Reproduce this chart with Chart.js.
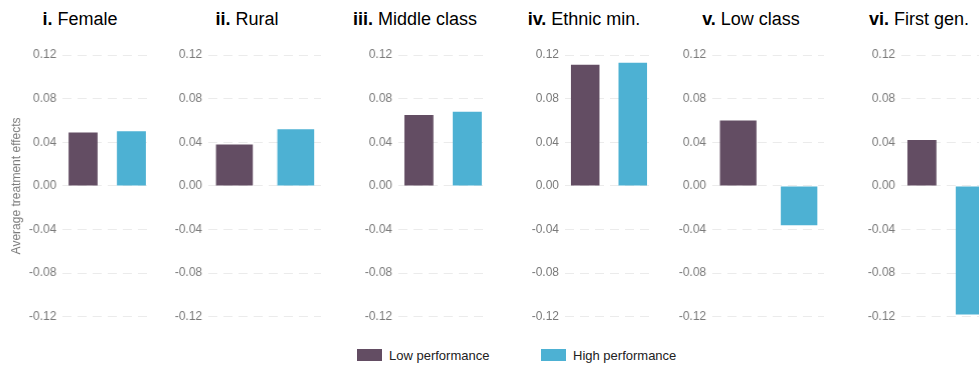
<!DOCTYPE html>
<html>
<head>
<meta charset="utf-8">
<script src="https://cdn.jsdelivr.net/npm/chart.js@4/dist/chart.umd.min.js"></script>
<style>
  html, body { margin: 0; padding: 0; background: #fff; overflow: hidden; }
  body { width: 979px; height: 365px; position: relative; font-family: "Liberation Sans", Arial, Helvetica, sans-serif; }
  .panel { position: absolute; top: 40px; height: 290px; }
  .title { position: absolute; top: 10px; width: 220px; text-align: center; font-size: 18px; line-height: 18px; color: #000; white-space: nowrap; }
  .title b { font-weight: bold; }
  .legend { position: absolute; top: 348px; left: 357px; font-size: 13px; color: #222; white-space: nowrap; }
  .legend span.item { position: absolute; top: 0; line-height: 14px; }
  .legend i { position: absolute; top: 1px; width: 25px; height: 12px; }
</style>
</head>
<body>
<script>
// Subgroups shown in the six panels
const panelNumerals = ['i.', 'ii.', 'iii.', 'iv.', 'v.', 'vi.'];
const panelNames = ['Female', 'Rural', 'Middle class', 'Ethnic min.', 'Low class', 'First gen.'];

// Average treatment effects per subgroup
const lowPerformance  = [0.049, 0.038, 0.065, 0.111, 0.060, 0.042];
const highPerformance = [0.050, 0.052, 0.068, 0.113, -0.036, -0.118];

// Series labels and y-axis ticks
const seriesNames = ['Low performance', 'High performance'];
const yTicks = [-0.12, -0.08, -0.04, 0.00, 0.04, 0.08, 0.12];

const colors = ['#634d63', '#4db1d3'];
const font = '"Liberation Sans", Arial, Helvetica, sans-serif';

// Plot placement for each panel: left edge of the plot area, pixels per bar slot, title centre
const geometry = [
  { left: 62.1,  unit: 48,   titleX: 80 },
  { left: 208.1, unit: 61,   titleX: 247 },
  { left: 398.1, unit: 48,   titleX: 415 },
  { left: 565,   unit: 47.6, titleX: 584 },
  { left: 711.8, unit: 60.5, titleX: 751 },
  { left: 901.1, unit: 48,   titleX: 919 }
];
const xMin = -0.425, xMax = 1.425;

panelNames.forEach((name, i) => {
  const g = geometry[i];
  const first = i === 0;
  const axisW = first ? g.left : 45;
  const plotW = (xMax - xMin) * g.unit;

  const title = document.createElement('div');
  title.className = 'title';
  title.style.left = (g.titleX - 110) + 'px';
  title.innerHTML = '<b>' + panelNumerals[i] + '</b> ' + name;
  document.body.appendChild(title);

  const box = document.createElement('div');
  box.className = 'panel';
  box.style.left = (g.left - axisW) + 'px';
  box.style.width = (axisW + plotW) + 'px';
  const canvas = document.createElement('canvas');
  box.appendChild(canvas);
  document.body.appendChild(box);

  new Chart(canvas, {
    type: 'bar',
    data: {
      datasets: [
        { label: seriesNames[0], data: [{ x: 0, y: lowPerformance[i] }], backgroundColor: colors[0] },
        { label: seriesNames[1], data: [{ x: 1, y: highPerformance[i] }], backgroundColor: colors[1] }
      ]
    },
    options: {
      responsive: true,
      maintainAspectRatio: false,
      animation: false,
      layout: { padding: { top: 15, bottom: 12.5, left: 0, right: 0 } },
      datasets: { bar: { grouped: false, barPercentage: 0.6, categoryPercentage: 1 } },
      plugins: { legend: { display: false }, tooltip: { enabled: false } },
      scales: {
        x: {
          type: 'linear', min: xMin, max: xMax, offset: false, display: false,
          ticks: { stepSize: 1, includeBounds: false }
        },
        y: {
          min: yTicks[0], max: yTicks[yTicks.length - 1],
          afterBuildTicks: (s) => { s.ticks = yTicks.map(v => ({ value: v })); },
          afterFit: (s) => { s.width = axisW; },
          border: { display: false, dash: [9, 6] },
          grid: { color: '#ebebeb', lineWidth: 1, drawTicks: false },
          ticks: {
            padding: 6, color: '#7a7a7a',
            font: { family: font, size: 12 },
            callback: (v) => Number(v).toFixed(2)
          },
          title: {
            display: first, text: 'Average treatment effects', color: '#7a7a7a',
            font: { family: font, size: 12 }, padding: { top: 9, bottom: 0 }
          }
        }
      }
    }
  });
});

// Shared legend under the panels
const legend = document.createElement('div');
legend.className = 'legend';
[0, 184].forEach((dx, k) => {
  const item = document.createElement('span');
  item.className = 'item';
  item.style.left = dx + 'px';
  item.innerHTML = '<i style="left:0;background:' + colors[k] + '"></i><span style="position:absolute;left:32px;top:1px">' + seriesNames[k] + '</span>';
  legend.appendChild(item);
});
document.body.appendChild(legend);
</script>
</body>
</html>
